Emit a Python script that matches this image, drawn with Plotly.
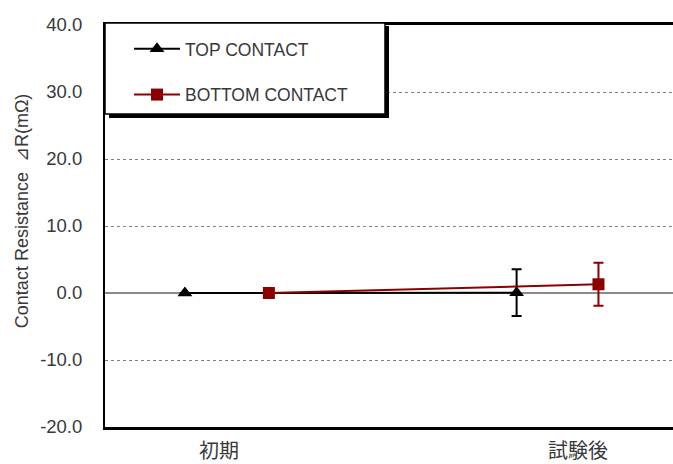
import plotly.graph_objects as go

# Measurement stages (category labels on the x axis) and their axis positions
stage_labels = ["初期", "試験後"]
stage_positions = [1, 2]

# Plotting positions for each series (offset around the stage positions)
top_x = [0.905, 1.829]
bottom_x = [1.139, 2.057]

# ΔR values (mΩ) and error bar half-widths
top_values = [0.0, 0.05]
top_errors = [0.0, 3.5]
bottom_values = [0.0, 1.3]
bottom_errors = [0.0, 3.2]

y_ticks = [-20, -10, 0, 10, 20, 30, 40]
y_tick_text = [f"{v:.1f}" for v in y_ticks]

SANS = "Liberation Sans, Arial, sans-serif"
CJK = "Noto Sans CJK JP, Noto Sans CJK SC, sans-serif"
TEXT = "#383838"
DARK_RED = "#8B0000"

# Plot area in pixels: left 105, top 25, width 568, height 406
PW, PH, PL, PT = 568.0, 406.0, 105.0, 25.0


def px_x(x):
    return (x - PL) / PW


def px_y(y):
    return (PT + PH - y) / PH


fig = go.Figure()

fig.add_trace(go.Scatter(
    x=top_x, y=top_values, name="TOP CONTACT",
    mode="lines+markers",
    line=dict(color="black", width=2),
    marker=dict(symbol="triangle-up", size=13, color="black"),
    error_y=dict(type="data", array=top_errors, visible=True,
                 color="black", thickness=2, width=5),
    legendgroup="top",
))

fig.add_trace(go.Scatter(
    x=bottom_x, y=bottom_values, name="BOTTOM CONTACT",
    mode="lines+markers",
    line=dict(color=DARK_RED, width=2),
    marker=dict(symbol="square", size=12, color=DARK_RED),
    error_y=dict(type="data", array=bottom_errors, visible=True,
                 color=DARK_RED, thickness=2, width=5),
    legendgroup="bottom",
))

# Legend frame with a drop shadow
fig.add_shape(type="rect", xref="paper", yref="paper",
              x0=px_x(109), x1=px_x(389), y0=px_y(119), y1=px_y(26),
              fillcolor="black", line=dict(width=0), layer="above")
fig.add_shape(type="rect", xref="paper", yref="paper",
              x0=px_x(105), x1=px_x(385), y0=px_y(115), y1=px_y(23),
              fillcolor="white", line=dict(color="black", width=1.5), layer="above")

# Rotated y-axis title
fig.add_annotation(
    xref="paper", yref="paper", x=px_x(22), y=px_y(213),
    text="Contact Resistance  ⊿R(mΩ)", textangle=-90, showarrow=False,
    xanchor="center", yanchor="middle",
    font=dict(family=SANS, size=18, color=TEXT),
)

fig.update_layout(
    width=673, height=464,
    margin=dict(l=105, r=0, t=25, b=33),
    paper_bgcolor="white", plot_bgcolor="white",
    showlegend=True,
    legend=dict(
        x=px_x(129), y=px_y(31), xanchor="left", yanchor="top",
        bgcolor="rgba(0,0,0,0)", borderwidth=0,
        font=dict(family=SANS, size=17.5, color=TEXT),
        tracegroupgap=20, traceorder="grouped", itemwidth=46,
    ),
    xaxis=dict(
        range=[0.6825, 2.2646],
        tickvals=stage_positions, ticktext=stage_labels,
        showgrid=False, zeroline=False,
        showline=True, linecolor="black", linewidth=2.5, mirror=True,
        ticks="", ticklabelstandoff=4,
        tickfont=dict(family=CJK, size=20, color=TEXT),
    ),
    yaxis=dict(
        range=[-20, 40], tickvals=y_ticks, ticktext=y_tick_text,
        showgrid=True, gridcolor="#7f7f7f", gridwidth=1, griddash="dot",
        zeroline=True, zerolinecolor="#8a8a8a", zerolinewidth=1.5,
        showline=True, linecolor="black", linewidth=2,
        ticks="", ticklabelstandoff=17,
        tickfont=dict(family=SANS, size=18.5, color=TEXT),
    ),
)

fig.write_html("out.html")
